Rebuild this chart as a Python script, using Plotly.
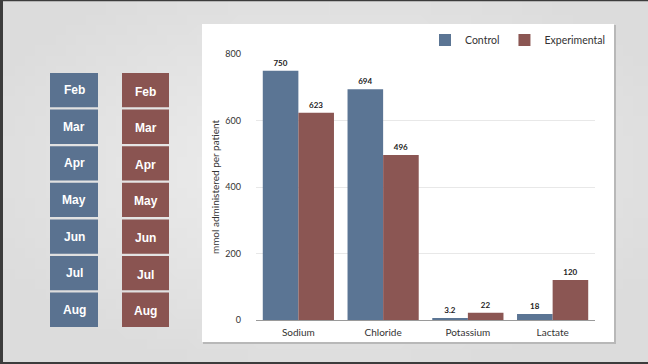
import base64
import struct
import zlib

import plotly.graph_objects as go

# ---- data -------------------------------------------------------------
categories = ["Sodium", "Chloride", "Potassium", "Lactate"]
control = [750, 694, 3.2, 18]
experimental = [623, 496, 22, 120]
control_labels = ["750", "694", "3.2", "18"]
experimental_labels = ["623", "496", "22", "120"]
months = ["Feb", "Mar", "Apr", "May", "Jun", "Jul", "Aug"]
y_ticks = [0, 200, 400, 600, 800]

# ---- styling ----------------------------------------------------------
W, H = 648, 364
BLUE = "#5b7594"
RED = "#8b5653"
BOX_BLUE = "#5a7290"
BOX_RED = "#8a5451"
FONT = "Lato"

# plot area in pixels
PL, PR, PT, PB = 256, 595, 54, 320


def px(x):
    return (x - PL) / (PR - PL)


def py(y):
    return (PB - y) / (PB - PT)


def gradient_png(w=64, h=36):
    """Small greyscale radial gradient used as the slide background."""
    rows = b""
    for j in range(h):
        row = bytearray([0])
        for i in range(w):
            dx = (i - w * 0.5) / (w * 0.5)
            dy = (j - h * 0.45) / (h * 0.5)
            d = min(1.0, (dx * dx + dy * dy) ** 0.5 / 1.2)
            v = int(240 - 20 * d)
            row += bytes([v])
        rows += bytes(row)

    def chunk(tag, data):
        c = struct.pack(">I", len(data)) + tag + data
        return c + struct.pack(">I", zlib.crc32(tag + data) & 0xFFFFFFFF)

    png = b"\x89PNG\r\n\x1a\n"
    png += chunk(b"IHDR", struct.pack(">IIBBBBB", w, h, 8, 0, 0, 0, 0))
    png += chunk(b"IDAT", zlib.compress(rows))
    png += chunk(b"IEND", b"")
    return "data:image/png;base64," + base64.b64encode(png).decode()


fig = go.Figure()
fig.add_trace(go.Bar(
    name="Control", x=categories, y=control, marker_color=BLUE,
    marker_line_width=0, text=control_labels, textposition="outside",
    texttemplate="<b>%{text}</b>",
    textfont=dict(family=FONT, size=8, color="#222"), cliponaxis=False,
))
fig.add_trace(go.Bar(
    name="Experimental", x=categories, y=experimental, marker_color=RED,
    marker_line_width=0, text=experimental_labels, textposition="outside",
    texttemplate="<b>%{text}</b>",
    textfont=dict(family=FONT, size=8, color="#222"), cliponaxis=False,
))

shapes = []
# outer slide frame (left, top, bottom edges)
shapes.append(dict(type="line", xref="paper", yref="paper", x0=px(1.5), x1=px(1.5),
                   y0=py(0), y1=py(H), line=dict(color="#3c3c3c", width=3), layer="above"))
shapes.append(dict(type="line", xref="paper", yref="paper", x0=px(0), x1=px(W),
                   y0=py(0.5), y1=py(0.5), line=dict(color="#3c3c3c", width=1.5), layer="above"))
shapes.append(dict(type="line", xref="paper", yref="paper", x0=px(0), x1=px(W),
                   y0=py(363), y1=py(363), line=dict(color="#3c3c3c", width=2), layer="above"))
# white chart panel with a soft shadow
shapes.append(dict(type="rect", xref="paper", yref="paper", x0=px(203), x1=px(616),
                   y0=py(344), y1=py(25), fillcolor="#b8b8b8", line_width=0, layer="below"))
shapes.append(dict(type="rect", xref="paper", yref="paper", x0=px(202), x1=px(614),
                   y0=py(342), y1=py(24), fillcolor="#ffffff", line_width=0, layer="below"))

annotations = []
# month boxes
top0, pitch, bh = 73, 36.6, 34.3
for k, m in enumerate(months):
    t = top0 + k * pitch
    for (x0, x1, col, dy) in [(50, 98, BOX_BLUE, 0), (122, 169, BOX_RED, 1.5)]:
        shapes.append(dict(type="rect", xref="paper", yref="paper", x0=px(x0), x1=px(x1),
                           y0=py(t + bh), y1=py(t), fillcolor=col, line_width=0,
                           layer="above"))
        annotations.append(dict(xref="paper", yref="paper", x=px((x0 + x1) / 2),
                                y=py(t + bh / 2 + dy), text="<b>%s</b>" % m,
                                showarrow=False, xanchor="center", yanchor="middle",
                                font=dict(family="Liberation Sans", size=12, color="white")))

fig.update_layout(
    width=W, height=H,
    margin=dict(l=PL, r=W - PR, t=PT, b=H - PB, pad=0),
    paper_bgcolor="#e6e6e6",
    plot_bgcolor="rgba(0,0,0,0)",
    barmode="group", bargap=0.16, bargroupgap=0,
    font=dict(family=FONT, color="#333"),
    shapes=shapes,
    annotations=annotations,
    images=[dict(source=gradient_png(), xref="paper", yref="paper",
                 x=px(0), y=py(0), sizex=px(W) - px(0), sizey=py(0) - py(H),
                 xanchor="left", yanchor="top", sizing="stretch", layer="below")],
    legend=dict(orientation="h", x=px(610), y=py(40), xanchor="right", yanchor="middle",
                bgcolor="rgba(0,0,0,0)", font=dict(family=FONT, size=10.5, color="#333"),
                itemwidth=30, traceorder="normal"),
    xaxis=dict(showgrid=False, ticks="", tickfont=dict(family=FONT, size=10, color="#333"),
               showline=False, zeroline=False, ticklabelstandoff=5),
    yaxis=dict(range=[0, 800], tickvals=y_ticks, showgrid=True, gridcolor="#e8e8e8",
               gridwidth=1, zeroline=True, zerolinecolor="#9a9a9a", zerolinewidth=1,
               tickfont=dict(family=FONT, size=9, color="#333"), ticks="", ticklabelstandoff=14,
               title=dict(text="mmol administered per patient", standoff=3,
                          font=dict(family=FONT, size=10, color="#333"))),
    showlegend=True,
)

fig.write_html("out.html")
